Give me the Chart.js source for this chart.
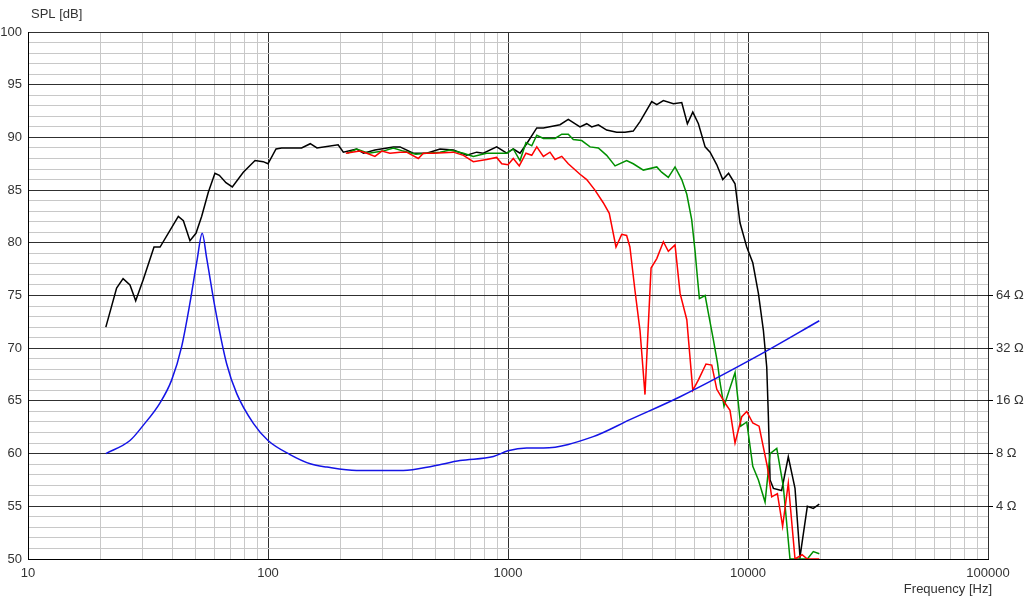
<!DOCTYPE html>
<html>
<head>
<meta charset="utf-8">
<script src="https://cdn.jsdelivr.net/npm/chart.js@4/dist/chart.umd.min.js"></script>
<style>
	html, body { margin: 0; padding: 0; background: #fff; }
</style>
</head>
<body>
<canvas id="myChart" width="1024" height="604"></canvas>
<script>
// SPL curves (Hz / dB)
const blackFreq = [21.1, 23.4, 24.9, 26.6, 28.1, 30.2, 33.5, 35.5, 42.3, 44.4, 47.3, 50.1, 52.9, 56.4, 60.1, 62.7, 66.8, 71.0, 78.9, 88.3, 95.5, 100, 108, 114, 124, 138, 150, 160, 196, 206, 234, 250, 279, 333, 355, 403, 458, 521, 592, 673, 741, 789, 897, 988, 1052, 1122, 1196, 1318, 1404, 1647, 1783, 1995, 2128, 2233, 2379, 2577, 2837, 3072, 3326, 3548, 3970, 4168, 4440, 4888, 5296, 5590, 5888, 6214, 6627, 6950, 7413, 7850, 8300, 8830, 9260, 9880, 10470, 11050, 11590, 11970, 12160, 12360, 12760, 13810, 14720, 15700, 16470, 17670, 18710, 19820]
const blackSpl = [72.0, 75.7, 76.6, 76.0, 74.5, 76.5, 79.6, 79.6, 82.5, 82.1, 80.2, 80.9, 82.5, 84.8, 86.6, 86.4, 85.7, 85.3, 86.7, 87.8, 87.7, 87.5, 88.9, 89.0, 89.0, 89.0, 89.4, 89.0, 89.3, 88.6, 88.9, 88.5, 88.8, 89.1, 89.1, 88.5, 88.5, 88.9, 88.8, 88.3, 88.6, 88.5, 89.1, 88.5, 88.9, 88.5, 89.4, 90.9, 90.9, 91.2, 91.7, 91.0, 91.3, 91.0, 91.2, 90.7, 90.5, 90.5, 90.6, 91.5, 93.4, 93.1, 93.5, 93.2, 93.3, 91.3, 92.4, 91.3, 89.1, 88.6, 87.4, 86.0, 86.6, 85.6, 81.9, 79.6, 78.1, 75.2, 71.7, 68.2, 63.5, 57.5, 56.7, 56.5, 59.7, 56.7, 50.2, 55.0, 54.8, 55.2]

const greenFreq = [214, 234, 262, 302, 333, 366, 413, 458, 521, 573, 652, 717, 815, 897, 988, 1052, 1122, 1188, 1256, 1318, 1404, 1570, 1675, 1783, 1871, 2028, 2197, 2379, 2577, 2793, 3121, 3326, 3664, 4168, 4366, 4656, 4966, 5296, 5559, 5826, 6012, 6150, 6273, 6627, 6840, 7175, 7460, 7650, 7943, 8833, 9330, 9880, 10470, 11050, 11780, 12360, 13180, 14030, 14960, 16470, 17670, 18710, 19820]
const greenSpl = [88.5, 88.9, 88.5, 88.7, 89.0, 88.7, 88.4, 88.5, 88.6, 88.8, 88.5, 88.2, 88.5, 88.5, 88.5, 88.9, 87.8, 89.5, 89.2, 90.2, 89.9, 89.9, 90.3, 90.3, 89.8, 89.7, 89.1, 89.0, 88.3, 87.3, 87.8, 87.5, 86.9, 87.2, 86.7, 86.2, 87.2, 86.0, 84.6, 82.2, 79.3, 76.8, 74.7, 75.0, 73.3, 70.8, 68.6, 66.7, 64.5, 67.7, 62.6, 63.0, 58.8, 57.5, 55.4, 60.0, 60.5, 56.9, 50, 50, 50, 50.7, 50.5]

const redFreq = [211, 241, 258, 279, 298, 322, 355, 378, 423, 444, 489, 592, 652, 717, 815, 897, 942, 1000, 1052, 1114, 1188, 1256, 1318, 1404, 1496, 1570, 1675, 1783, 1995, 2128, 2303, 2494, 2642, 2818, 2977, 3121, 3221, 3380, 3548, 3722, 3945, 4168, 4440, 4656, 4966, 5212, 5559, 5888, 6214, 6683, 7063, 7413, 8018, 8414, 8830, 9420, 9880, 10470, 11120, 12030, 12550, 13260, 13940, 14720, 15700, 16800, 17670, 19820]
const redSpl = [88.5, 88.7, 88.5, 88.2, 88.7, 88.5, 88.6, 88.6, 88.0, 88.5, 88.5, 88.6, 88.3, 87.7, 87.9, 88.1, 87.5, 87.4, 88.0, 87.3, 88.5, 88.3, 89.1, 88.2, 88.6, 87.9, 88.2, 87.5, 86.5, 86.0, 85.0, 83.8, 82.8, 79.6, 80.8, 80.7, 79.6, 75.5, 71.7, 65.6, 77.6, 78.5, 80.1, 79.2, 79.8, 75.2, 72.7, 66.0, 67.0, 68.5, 68.4, 66.1, 64.8, 64.1, 61.0, 63.5, 64.0, 62.9, 62.6, 58.8, 55.9, 56.2, 53.1, 57.2, 50, 50.4, 50, 50]

// impedance curve (Hz / ohm)
const impFreq = [21.1, 26.6, 30.2, 35.5, 39.7, 43.7, 47.3, 50.7, 53.2, 55.5, 60.1, 67.3, 74.1, 86.9, 100, 123.5, 150, 176, 234, 366, 489, 631, 869, 1000, 1196, 1404, 2265, 3221, 5212, 11220, 19820]
const impOhm = [8.0, 9.5, 11.6, 15.6, 21.1, 32.8, 58, 103, 145, 105, 55, 26, 17.6, 11.9, 9.5, 7.9, 7.0, 6.7, 6.4, 6.4, 6.8, 7.3, 7.7, 8.3, 8.6, 8.6, 10.0, 12.5, 16.9, 29.4, 45.9]

const ohmTicks = [4, 8, 16, 32, 64]
const freqTicks = []
for (let d = 10; d <= 100000; d *= 10) {
	for (let m = 1; m < 10; m++) {
		if (d * m <= 100000) freqTicks.push(d * m)
	}
}

const toPoints = (xs, ys) => xs.map((x, i) => ({ x: x, y: ys[i] }))
const isDecade = (v) => Math.abs(Math.log10(v) - Math.round(Math.log10(v))) < 1e-9

const axisTitles = {
	id: 'axisTitles',
	afterDraw(chart) {
		const c = chart.ctx
		c.save()
		c.font = '13px "Liberation Sans", Arial, sans-serif'
		c.fillStyle = '#333'
		c.textBaseline = 'middle'
		c.textAlign = 'left'
		c.fillText('SPL [dB]', 31, 14)
		c.textAlign = 'right'
		c.fillText('Frequency [Hz]', 992, 589)
		c.restore()
	},
}

Chart.defaults.font.family = '"Liberation Sans", Arial, sans-serif'
Chart.defaults.font.size = 13
Chart.defaults.color = '#333'

const chart = document.getElementById('myChart')
new Chart(chart, {
	type: 'line',
	data: {
		datasets: [
			{ data: toPoints(impFreq, impOhm), borderColor: '#1414e6', yAxisID: 'y2', cubicInterpolationMode: 'monotone' },
			{ data: toPoints(redFreq, redSpl), borderColor: '#ff0000', yAxisID: 'y' },
			{ data: toPoints(greenFreq, greenSpl), borderColor: '#009000', yAxisID: 'y' },
			{ data: toPoints(blackFreq, blackSpl), borderColor: '#000000', yAxisID: 'y' },
		],
	},
	options: {
		responsive: false,
		animation: false,
		layout: { padding: { top: 32, left: 0, right: 0, bottom: 0 } },
		elements: {
			point: { radius: 0 },
			line: { borderWidth: 1.5, tension: 0, fill: false },
		},
		plugins: {
			legend: { display: false },
			tooltip: { enabled: false },
		},
		scales: {
			x: {
				type: 'logarithmic',
				min: 10,
				max: 100000,
				afterBuildTicks: (scale) => {
					scale.ticks = freqTicks.map((v) => ({ value: v }))
				},
				afterFit: (scale) => {
					scale.height = 45
				},
				ticks: {
					autoSkip: false,
					maxRotation: 0,
					padding: 7,
					callback: (v) => (isDecade(v) ? String(v) : ''),
				},
				grid: {
					drawTicks: false,
					color: (ctx) => (ctx.tick && isDecade(ctx.tick.value) ? '#303030' : '#c8c8c8'),
				},
				border: { color: '#000' },
			},
			y: {
				type: 'linear',
				position: 'left',
				min: 50,
				max: 100,
				afterFit: (scale) => {
					scale.width = 28
				},
				ticks: {
					stepSize: 1,
					autoSkip: false,
					padding: 6,
					callback: (v) => (v % 5 === 0 ? String(v) : ''),
				},
				grid: {
					drawTicks: false,
					color: (ctx) => (ctx.tick && ctx.tick.value % 5 === 0 ? '#303030' : '#c8c8c8'),
				},
				border: { color: '#000' },
			},
			y2: {
				type: 'logarithmic',
				position: 'right',
				min: 2,
				max: 2048,
				afterBuildTicks: (scale) => {
					scale.ticks = ohmTicks.map((v) => ({ value: v }))
				},
				afterFit: (scale) => {
					scale.width = 36
				},
				ticks: {
					autoSkip: false,
					padding: 3,
					callback: (v) => v + ' Ω',
				},
				grid: {
					drawOnChartArea: false,
					tickLength: 5,
					color: '#000',
				},
				border: { display: false },
			},
		},
	},
	plugins: [axisTitles],
})
</script>
</body>
</html>
